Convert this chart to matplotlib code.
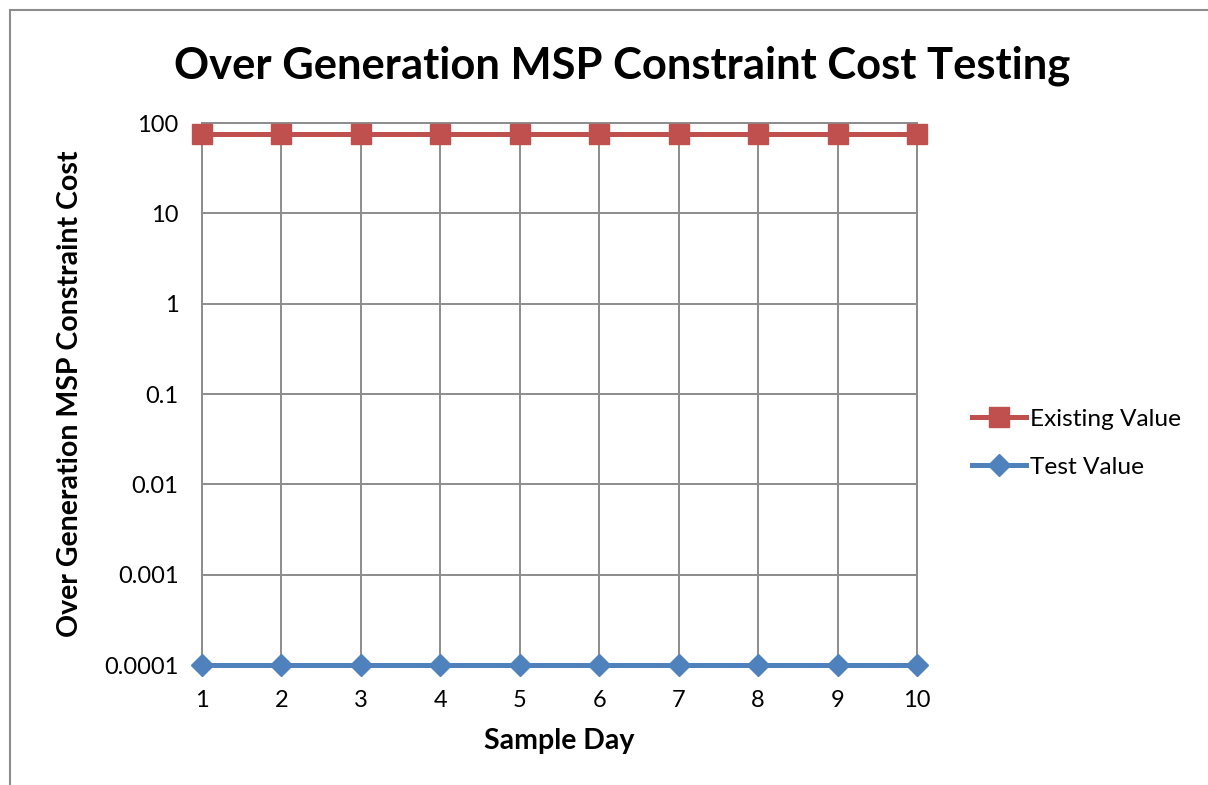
import matplotlib.pyplot as plt
from matplotlib.patches import Rectangle

plt.rcParams['font.family'] = ['Lato', 'DejaVu Sans']

days = [1, 2, 3, 4, 5, 6, 7, 8, 9, 10]
existing_value = [75, 75, 75, 75, 75, 75, 75, 75, 75, 75]
test_value = [0.0001, 0.0001, 0.0001, 0.0001, 0.0001, 0.0001, 0.0001, 0.0001, 0.0001, 0.0001]
y_ticks = [0.0001, 0.001, 0.01, 0.1, 1, 10, 100]
y_labels = ['0.0001', '0.001', '0.01', '0.1', '1', '10', '100']

red = '#C0504D'
blue = '#4F81BD'
grid_col = '#8C8C8C'

fig = plt.figure(figsize=(12.08, 7.85), dpi=100)
ax = fig.add_axes([202 / 1208, 1 - 665 / 785, 715 / 1208, 542 / 785])

# outer chart border (runs off the right and bottom of the picture)
fig.patches.append(Rectangle((10 / 1208, -0.05), 1.1, 1 - 10 / 785 + 0.05,
                             transform=fig.transFigure, fill=False,
                             edgecolor='#8C8C8C', linewidth=1.5))

ax.plot(days, existing_value, color=red, lw=3.6, marker='s', markersize=14,
        markeredgecolor=red, clip_on=False, zorder=4, label='Existing Value')
ax.plot(days, test_value, color=blue, lw=3.6, marker='D', markersize=11,
        markeredgecolor=blue, clip_on=False, zorder=4, label='Test Value')

ax.set_yscale('log')
ax.set_ylim(0.0001, 100)
ax.set_xlim(1, 10)
ax.set_yticks(y_ticks)
ax.set_yticklabels(y_labels)
ax.minorticks_off()
ax.set_xticks(days)
ax.set_xticklabels([str(d) for d in days])

ax.grid(True, color=grid_col, linewidth=1.4)
ax.set_axisbelow(True)
for s in ax.spines.values():
    s.set_color(grid_col)
    s.set_linewidth(1.4)
ax.tick_params(axis='both', length=0, labelsize=17, colors='black')
ax.tick_params(axis='y', pad=17)
ax.tick_params(axis='x', pad=18)

ax.set_xlabel('Sample Day', fontsize=20.5, fontweight='bold', labelpad=12)
ax.set_ylabel('Over Generation MSP Constraint Cost', fontsize=20.5,
              fontweight='bold', labelpad=15)
fig.text(622 / 1208, 1 - 66 / 785, 'Over Generation MSP Constraint Cost Testing',
         fontsize=31.3, fontweight='bold', ha='center', va='center')

fig.legend(loc='center left', bbox_to_anchor=(960 / 1208, 1 - 443 / 785),
           frameon=False, fontsize=17.6, handlelength=2.2, handletextpad=0.15,
           labelspacing=1.1, borderpad=0)

fig.savefig('out.png', dpi=100)
